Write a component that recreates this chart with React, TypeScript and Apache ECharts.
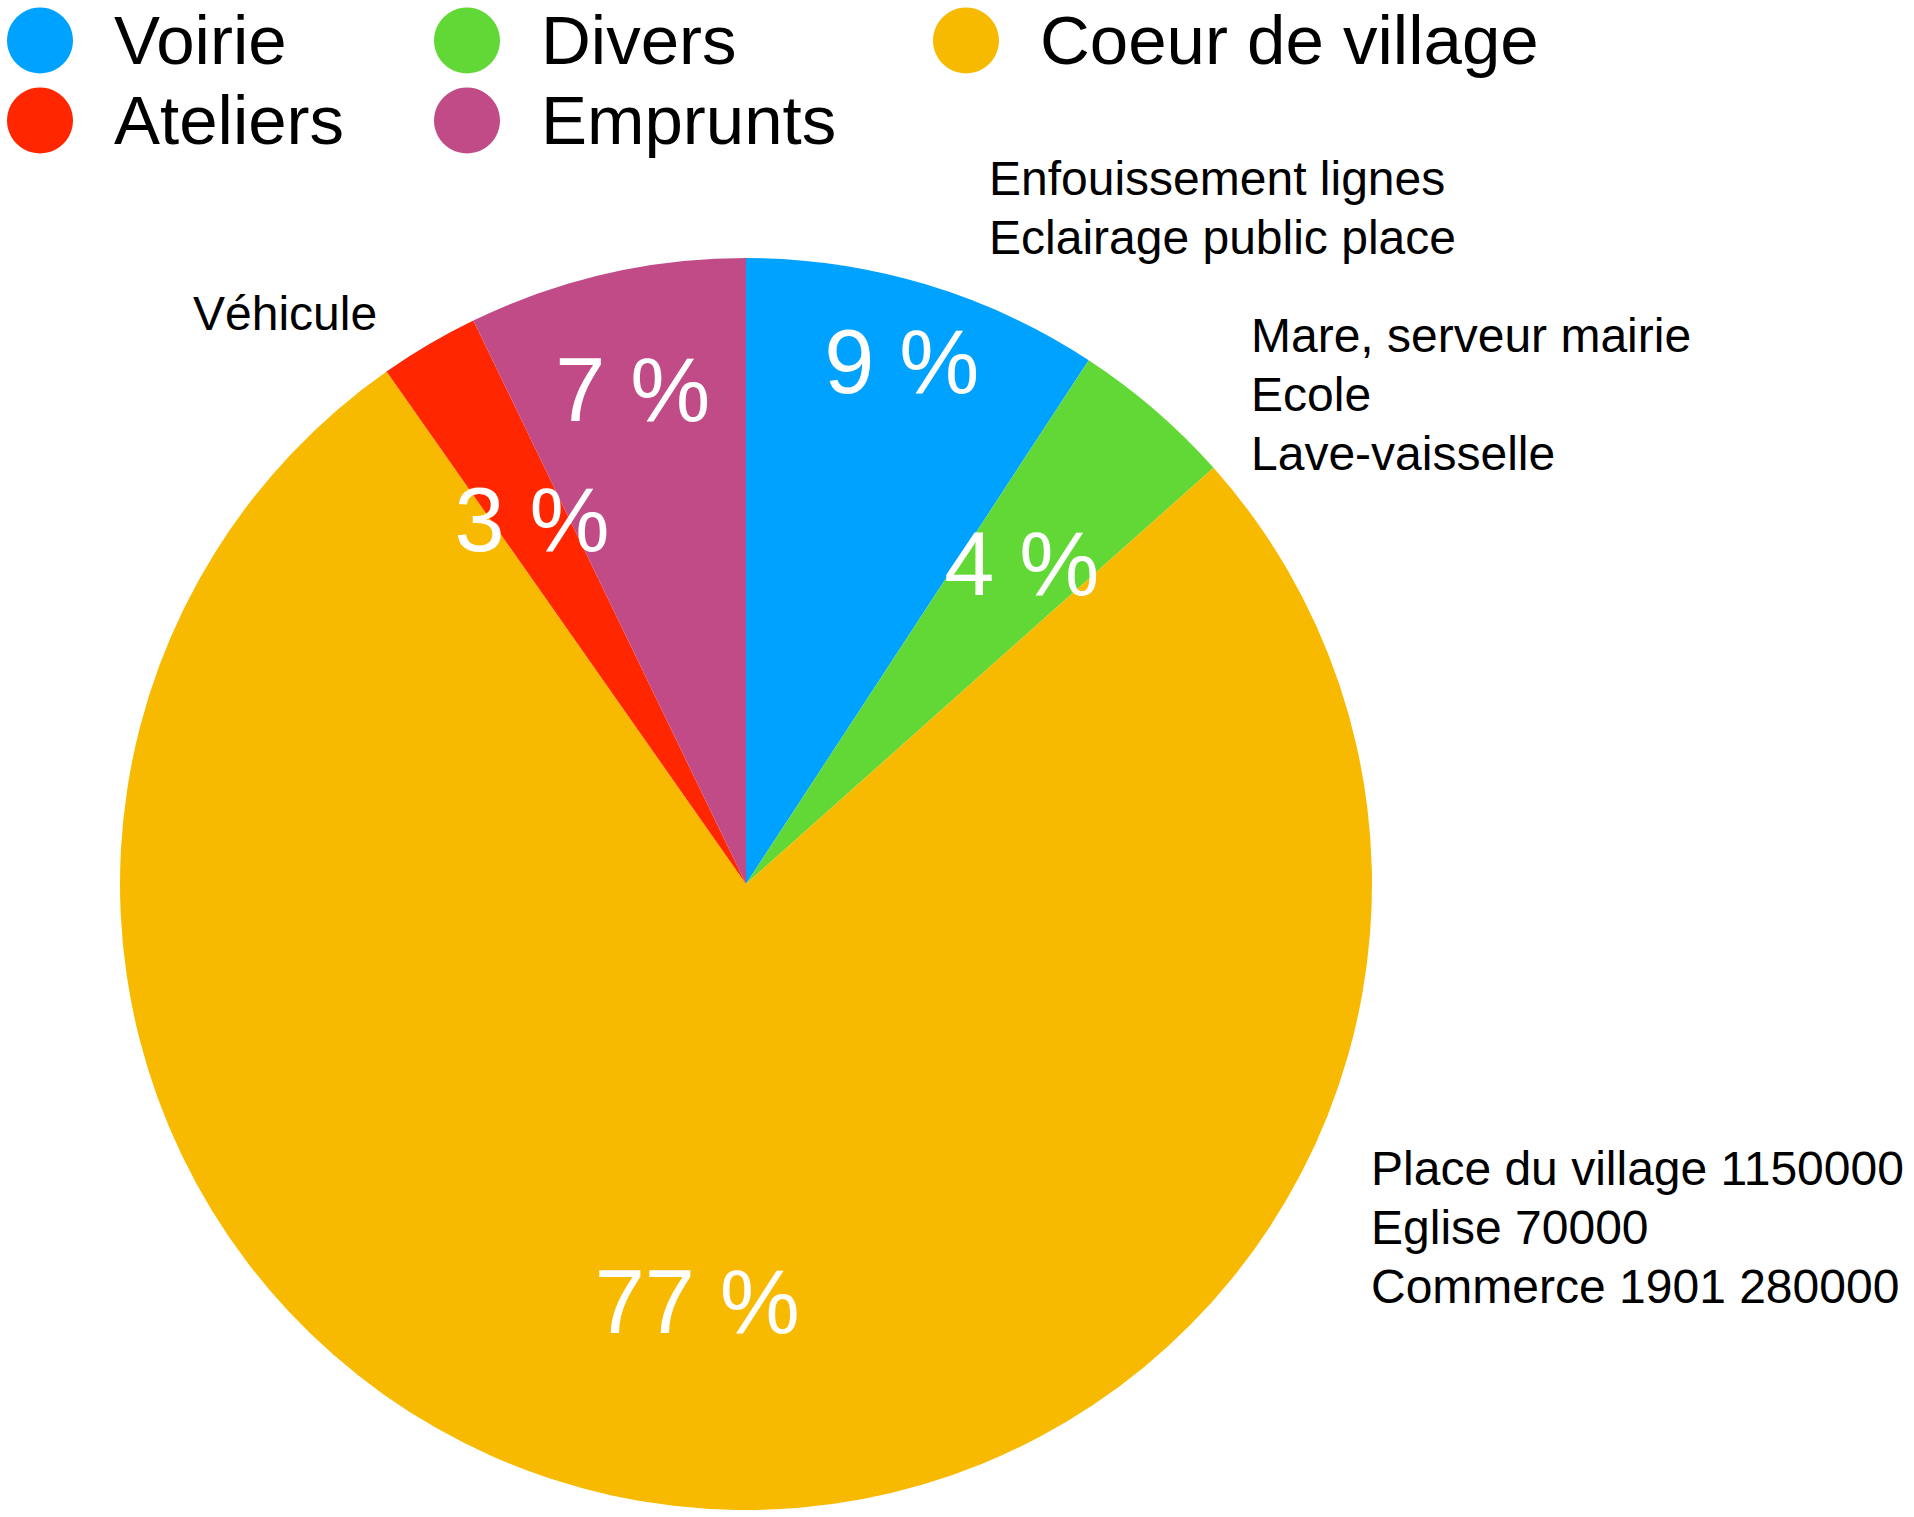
import React, { useEffect, useRef } from 'react';
import * as echarts from 'echarts';

// ---- data ----
const categories = ['Voirie', 'Divers', 'Coeur de village', 'Ateliers', 'Emprunts'];
const values = [180000, 82000, 1500000, 50000, 140000];
const colors = ['#00A2FF', '#61D836', '#F8BA00', '#FF2600', '#C04B87'];
const notes = [
  'Enfouissement lignes\nEclairage public place',
  'Mare, serveur mairie\nEcole\nLave-vaisselle',
  'Place du village 1150000\nEglise 70000\nCommerce 1901 280000',
  'Véhicule',
  '',
];
const legendColumns = [
  ['Voirie', 'Ateliers'],
  ['Divers', 'Emprunts'],
  ['Coeur de village'],
];

// ---- layout ----
const FONT = '"Liberation Sans", Arial, Helvetica, sans-serif';
const CX = 746;
const CY = 884;
const R = 626;
const labelRadiusFrac = [0.866, 0.67, 0.668, 0.67, 0.805];
const legendLeft = [7, 434, 933];
const notePos = [
  { x: 989, y: 149 },
  { x: 1251, y: 306 },
  { x: 1371, y: 1139 },
  { x: 193, y: 284 },
  { x: 0, y: 0 },
];

export default function App() {
  const ref = useRef<HTMLDivElement>(null);

  useEffect(() => {
    if (!ref.current) return;
    const chart = echarts.init(ref.current, undefined, { renderer: 'svg' });

    const mainData = categories.map((name, i) => ({
      name,
      value: values[i],
      itemStyle: { color: colors[i] },
    }));

    const labelSeries = categories.map((_, k) => {
      const frac = labelRadiusFrac[k];
      const r0 = Math.max(0, 2 * frac * R - R);
      return {
        type: 'pie',
        center: [CX, CY],
        radius: [r0, R],
        startAngle: 90,
        clockwise: true,
        silent: true,
        z: 5,
        avoidLabelOverlap: false,
        labelLine: { show: false },
        emphasis: { disabled: true },
        itemStyle: { color: 'rgba(0,0,0,0)', borderWidth: 0 },
        data: categories.map((name, i) => ({
          name,
          value: values[i],
          label: {
            show: i === k,
            position: 'inside',
            formatter: (p: any) => Math.round(p.percent) + ' %',
            color: '#ffffff',
            fontSize: 90,
            fontFamily: FONT,
          },
        })),
      };
    });

    const graphics = notes
      .map((text, i) => ({ text, i }))
      .filter((n) => n.text)
      .map(({ text, i }) => ({
        type: 'text',
        x: notePos[i].x,
        y: notePos[i].y,
        silent: true,
        style: {
          text,
          fill: '#000000',
          fontSize: 48,
          fontFamily: FONT,
          lineHeight: 59,
          align: 'left',
          verticalAlign: 'top',
        },
      }));

    chart.setOption({
      animation: false,
      backgroundColor: '#ffffff',
      legend: legendColumns.map((names, k) => ({
        data: names,
        orient: 'vertical',
        left: legendLeft[k],
        top: 6,
        padding: 0,
        itemWidth: 66,
        itemHeight: 66,
        itemGap: 11,
        icon: 'circle',
        selectedMode: false,
        textStyle: {
          fontSize: 69,
          fontFamily: FONT,
          color: '#000000',
          lineHeight: 66,
          padding: [0, 0, 0, 36],
        },
      })),
      graphic: graphics,
      series: [
        {
          type: 'pie',
          center: [CX, CY],
          radius: R,
          startAngle: 90,
          clockwise: true,
          avoidLabelOverlap: false,
          label: { show: false },
          labelLine: { show: false },
          emphasis: { disabled: true },
          itemStyle: { borderWidth: 0 },
          data: mainData,
        },
        ...labelSeries,
      ],
    } as any);

    return () => chart.dispose();
  }, []);

  return (
    <div
      ref={ref}
      style={{ position: 'absolute', left: 0, top: 0, width: 1914, height: 1517 }}
    />
  );
}
